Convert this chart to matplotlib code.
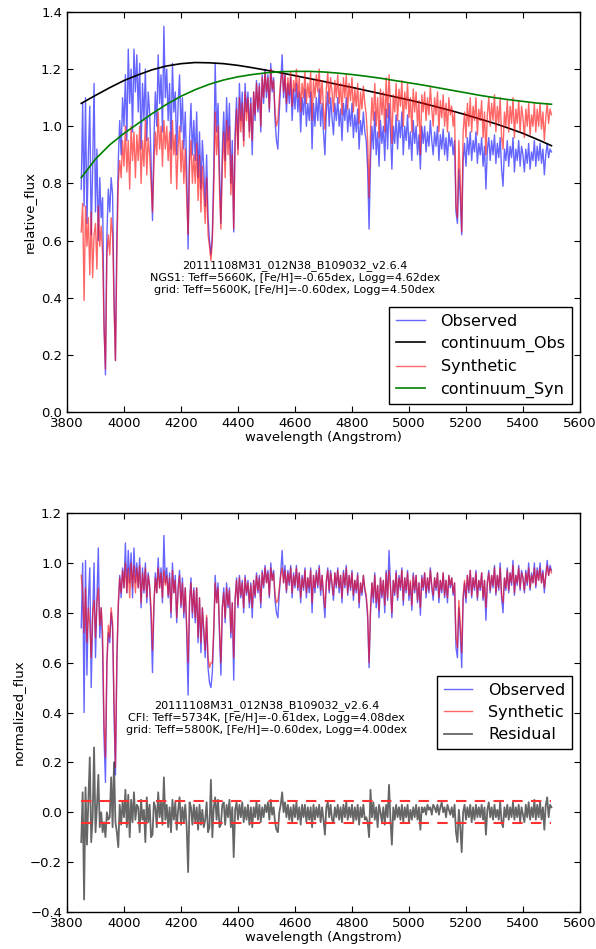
import numpy as np
import matplotlib
matplotlib.use("Agg")
import matplotlib.pyplot as plt

# ---------------- data ----------------
wave = np.arange(3850, 5501, 5)  # Angstrom, 331 samples

obs_flux = [
    0.78, 1.08, 0.72, 1.10, 0.66, 0.90, 1.07, 0.62, 0.85, 1.15,
    0.70, 0.92, 0.60, 0.82, 0.68, 0.75, 0.30, 0.13, 0.62, 0.78,
    0.70, 0.82, 0.76, 0.40, 0.18, 0.62, 0.88, 1.02, 0.90, 1.10,
    1.00, 1.18, 0.95, 1.27, 1.08, 1.20, 0.98, 1.27, 1.12, 1.25,
    1.05, 1.22, 0.92, 1.15, 1.02, 1.20, 0.95, 1.12, 1.05, 0.88,
    0.67, 0.95, 1.12, 1.00, 1.25, 1.08, 1.18, 0.98, 1.35, 1.10,
    1.20, 1.02, 1.15, 0.92, 1.22, 1.05, 1.12, 0.90, 1.08, 1.18,
    0.98, 1.10, 0.92, 1.05, 0.85, 0.57, 0.95, 1.08, 0.90, 1.02,
    0.88, 1.05, 0.82, 0.98, 0.78, 0.95, 0.85, 0.72, 0.90, 0.68,
    0.60, 0.55, 0.62, 0.85, 1.22, 0.98, 1.08, 0.85, 0.66, 0.92,
    1.05, 0.88, 1.10, 0.95, 1.08, 0.80, 0.95, 0.63, 0.98, 1.10,
    0.92, 1.15, 1.02, 1.12, 0.95, 1.15, 1.05, 1.12, 0.98, 1.10,
    0.90, 1.12, 1.02, 1.16, 1.05, 1.15, 0.98, 1.18, 1.08, 1.20,
    1.10, 1.18, 1.05, 1.22, 1.12, 1.17, 1.02, 0.95, 0.92, 1.05,
    1.15, 1.25, 1.10, 1.18, 1.05, 1.15, 1.08, 1.17, 1.02, 1.13,
    1.06, 1.15, 1.05, 1.12, 0.98, 1.10, 1.04, 1.13, 1.00, 1.08,
    1.02, 1.12, 0.92, 1.08, 1.00, 1.10, 1.02, 1.13, 1.00, 1.08,
    0.98, 0.90, 1.05, 1.12, 1.00, 1.10, 1.03, 0.97, 1.08, 1.02,
    1.10, 1.00, 1.06, 0.95, 1.08, 1.02, 1.10, 0.98, 1.06, 1.00,
    1.08, 0.96, 1.04, 0.98, 1.06, 0.92, 1.02, 0.97, 1.05, 0.98,
    0.95, 0.85, 0.64, 0.88, 1.00, 0.92, 1.05, 0.90, 0.98, 0.86,
    1.02, 0.94, 1.00, 0.88, 1.06, 0.92, 1.08, 0.98, 0.85, 1.00,
    0.94, 1.04, 0.92, 1.02, 0.96, 1.05, 0.90, 1.00, 0.95, 1.04,
    0.92, 0.98, 0.88, 1.02, 0.94, 1.00, 0.90, 0.97, 0.85, 1.00,
    0.94, 1.00, 0.91, 0.98, 0.93, 1.02, 0.95, 0.90, 0.98, 0.93,
    1.00, 0.88, 0.97, 0.92, 0.99, 0.90, 0.96, 0.88, 0.98, 0.93,
    0.96, 0.90, 0.95, 0.70, 0.66, 0.85, 0.75, 0.62, 0.88, 0.94,
    0.86, 0.96, 0.90, 0.98, 0.88, 0.95, 0.91, 0.98, 0.87, 0.94,
    0.90, 0.96, 0.86, 0.93, 0.78, 0.92, 0.96, 0.88, 0.95, 0.90,
    0.97, 0.87, 0.94, 0.89, 0.96, 0.85, 0.79, 0.92, 0.88, 0.95,
    0.86, 0.93, 0.89, 0.96, 0.84, 0.92, 0.88, 0.95, 0.86, 0.93,
    0.90, 0.84, 0.92, 0.87, 0.94, 0.85, 0.91, 0.88, 0.95, 0.86,
    0.93, 0.88, 0.94, 0.87, 0.92, 0.83, 0.90, 0.94, 0.89, 0.92,
    0.91,
]

syn_flux = [
    0.63, 0.73, 0.39, 0.72, 0.58, 0.68, 0.48, 0.70, 0.47, 0.62,
    0.66, 0.50, 0.72, 0.58, 0.65, 0.55, 0.30, 0.15, 0.55, 0.62,
    0.55, 0.68, 0.62, 0.38, 0.18, 0.55, 0.80, 0.88, 0.82, 0.95,
    0.86, 1.00, 0.84, 0.95, 0.78, 1.00, 0.88, 0.98, 0.82, 0.97,
    0.88, 1.00, 0.80, 0.95, 0.86, 1.02, 0.83, 0.96, 0.90, 0.80,
    0.70, 0.86, 0.98, 0.90, 1.05, 0.92, 1.00, 0.86, 1.02, 0.92,
    1.00, 0.88, 0.98, 0.80, 1.02, 0.90, 0.97, 0.78, 0.93, 1.00,
    0.84, 0.95, 0.80, 0.92, 0.75, 0.62, 0.86, 0.95, 0.80, 0.90,
    0.80, 0.94, 0.74, 0.90, 0.70, 0.86, 0.76, 0.66, 0.82, 0.62,
    0.58, 0.53, 0.60, 0.78, 1.05, 0.90, 1.00, 0.78, 0.64, 0.86,
    0.98, 0.82, 1.02, 0.90, 1.00, 0.76, 0.90, 0.64, 0.94, 1.06,
    0.90, 1.10, 0.98, 1.08, 0.93, 1.12, 1.02, 1.10, 0.96, 1.08,
    0.95, 1.12, 1.04, 1.15, 1.06, 1.14, 1.00, 1.17, 1.10, 1.19,
    1.12, 1.17, 1.06, 1.20, 1.13, 1.16, 1.05, 1.00, 1.02, 1.10,
    1.16, 1.19, 1.12, 1.18, 1.08, 1.17, 1.11, 1.19, 1.07, 1.16,
    1.12, 1.20, 1.10, 1.17, 1.05, 1.15, 1.10, 1.19, 1.08, 1.15,
    1.10, 1.19, 1.02, 1.16, 1.10, 1.18, 1.12, 1.20, 1.08, 1.16,
    1.06, 0.99, 1.13, 1.19, 1.08, 1.17, 1.12, 1.05, 1.16, 1.10,
    1.18, 1.08, 1.15, 1.04, 1.17, 1.10, 1.18, 1.06, 1.15, 1.09,
    1.17, 1.05, 1.13, 1.07, 1.15, 1.01, 1.12, 1.06, 1.14, 1.08,
    1.04, 0.95, 0.75, 0.98, 1.10, 1.02, 1.15, 1.00, 1.10, 0.96,
    1.13, 1.04, 1.12, 0.98, 1.17, 1.03, 1.18, 1.08, 0.94, 1.11,
    1.05, 1.15, 1.02, 1.13, 1.07, 1.16, 1.00, 1.12, 1.06, 1.15,
    1.03, 1.10, 0.98, 1.13, 1.05, 1.12, 1.00, 1.09, 0.90, 1.11,
    1.05, 1.12, 1.02, 1.10, 1.04, 1.14, 1.06, 1.00, 1.10, 1.04,
    1.12, 0.98, 1.09, 1.03, 1.11, 1.00, 1.08, 0.98, 1.10, 1.04,
    1.07, 1.00, 1.05, 0.72, 0.68, 0.95, 0.82, 0.63, 0.98, 1.05,
    0.96, 1.08, 1.00, 1.10, 0.98, 1.07, 1.02, 1.10, 0.97, 1.06,
    1.02, 1.09, 0.96, 1.05, 0.90, 1.04, 1.10, 1.00, 1.08, 1.02,
    1.11, 0.98, 1.07, 1.01, 1.10, 0.96, 0.92, 1.05, 1.00, 1.09,
    0.98, 1.07, 1.01, 1.10, 0.96, 1.06, 1.01, 1.09, 0.98, 1.07,
    1.03, 0.96, 1.06, 1.00, 1.08, 0.97, 1.04, 1.00, 1.08, 0.98,
    1.06, 1.00, 1.08, 0.99, 1.05, 0.95, 1.03, 1.08, 1.01, 1.06,
    1.04,
]

cont_wave = np.arange(3850, 5501, 50)
cont_obs = [
    1.080, 1.108, 1.135, 1.160, 1.180, 1.198, 1.211, 1.219, 1.223, 1.222,
    1.219, 1.213, 1.205, 1.196, 1.187, 1.177, 1.167, 1.157, 1.146, 1.136,
    1.125, 1.114, 1.103, 1.092, 1.080, 1.067, 1.054, 1.040, 1.025, 1.010,
    0.993, 0.975, 0.954, 0.932,
]
cont_syn = [
    0.820, 0.885, 0.935, 0.975, 1.010, 1.045, 1.077, 1.105, 1.128, 1.147,
    1.162, 1.173, 1.181, 1.187, 1.191, 1.192, 1.192, 1.190, 1.186, 1.181,
    1.175, 1.168, 1.160, 1.152, 1.144, 1.135, 1.126, 1.117, 1.108, 1.100,
    1.093, 1.087, 1.081, 1.077,
]

norm_obs = [
    0.74, 1.00, 0.40, 1.01, 0.55, 0.85, 0.98, 0.50, 0.78, 1.00,
    0.62, 0.85, 1.06, 0.70, 0.82, 0.65, 0.30, 0.12, 0.60, 0.72,
    0.68, 0.80, 0.74, 0.40, 0.15, 0.60, 0.82, 0.95, 0.86, 0.98,
    0.90, 1.08, 0.88, 1.05, 0.92, 1.04, 0.86, 1.06, 0.92, 1.00,
    0.90, 1.02, 0.82, 0.98, 0.88, 1.00, 0.84, 0.96, 0.90, 0.78,
    0.56, 0.82, 0.96, 0.88, 1.02, 0.90, 0.98, 0.84, 1.11, 0.92,
    0.98, 0.86, 0.96, 0.78, 1.00, 0.88, 0.95, 0.76, 0.90, 0.97,
    0.82, 0.94, 0.78, 0.90, 0.72, 0.47, 0.84, 0.94, 0.78, 0.90,
    0.76, 0.90, 0.68, 0.86, 0.64, 0.82, 0.72, 0.62, 0.78, 0.58,
    0.52, 0.50, 0.56, 0.72, 0.95, 0.84, 0.92, 0.72, 0.55, 0.82,
    0.90, 0.76, 0.92, 0.82, 0.90, 0.70, 0.84, 0.53, 0.85, 0.94,
    0.82, 0.95, 0.86, 0.93, 0.80, 0.95, 0.87, 0.93, 0.82, 0.92,
    0.78, 0.93, 0.86, 0.96, 0.88, 0.95, 0.82, 0.97, 0.90, 0.99,
    0.92, 0.97, 0.86, 1.00, 0.93, 0.97, 0.85, 0.80, 0.78, 0.88,
    0.96, 1.05, 0.92, 0.99, 0.88, 0.97, 0.91, 0.99, 0.86, 0.96,
    0.90, 0.99, 0.89, 0.96, 0.84, 0.95, 0.89, 0.98, 0.86, 0.94,
    0.88, 0.98, 0.80, 0.95, 0.88, 0.97, 0.90, 0.99, 0.87, 0.95,
    0.86, 0.78, 0.92, 0.98, 0.88, 0.97, 0.91, 0.85, 0.96, 0.90,
    0.98, 0.88, 0.95, 0.84, 0.97, 0.90, 0.99, 0.87, 0.95, 0.89,
    0.97, 0.85, 0.93, 0.88, 0.96, 0.82, 0.92, 0.87, 0.95, 0.89,
    0.86, 0.78, 0.58, 0.80, 0.92, 0.84, 0.96, 0.82, 0.91, 0.78,
    0.94, 0.86, 0.93, 0.80, 0.97, 0.85, 1.05, 0.91, 0.78, 0.93,
    0.87, 0.97, 0.85, 0.95, 0.89, 0.98, 0.83, 0.94, 0.88, 0.97,
    0.85, 0.92, 0.81, 0.96, 0.88, 0.95, 0.84, 0.92, 0.79, 0.95,
    0.89, 0.96, 0.86, 0.94, 0.88, 0.98, 0.90, 0.85, 0.94, 0.89,
    0.96, 0.84, 0.93, 0.88, 0.96, 0.86, 0.93, 0.84, 0.95, 0.90,
    0.94, 0.87, 0.92, 0.66, 0.62, 0.82, 0.72, 0.58, 0.85, 0.92,
    0.84, 0.95, 0.88, 0.97, 0.86, 0.94, 0.89, 0.97, 0.85, 0.93,
    0.89, 0.96, 0.85, 0.93, 0.77, 0.92, 0.97, 0.88, 0.95, 0.90,
    0.99, 0.87, 0.95, 0.89, 1.00, 0.86, 0.80, 0.94, 0.89, 0.98,
    0.88, 0.96, 0.91, 1.01, 0.87, 0.95, 0.91, 0.99, 0.89, 0.97,
    0.94, 0.88, 0.97, 0.91, 1.00, 0.89, 0.96, 0.92, 1.00, 0.90,
    0.98, 0.93, 1.00, 0.92, 0.97, 0.88, 0.95, 1.01, 0.95, 0.99,
    0.97,
]

norm_syn = [
    0.95, 0.88, 0.72, 0.90, 0.68, 0.82, 0.75, 0.62, 0.80, 0.85,
    0.70, 0.84, 0.90, 0.75, 0.82, 0.72, 0.35, 0.22, 0.60, 0.75,
    0.70, 0.82, 0.76, 0.45, 0.18, 0.62, 0.84, 0.94, 0.88, 0.97,
    0.90, 1.00, 0.88, 0.98, 0.86, 1.00, 0.90, 0.99, 0.88, 0.98,
    0.90, 0.99, 0.84, 0.96, 0.89, 0.98, 0.86, 0.95, 0.91, 0.82,
    0.65, 0.84, 0.94, 0.88, 0.98, 0.90, 0.96, 0.86, 0.97, 0.91,
    0.95, 0.87, 0.94, 0.80, 0.97, 0.88, 0.93, 0.78, 0.89, 0.95,
    0.83, 0.92, 0.80, 0.90, 0.75, 0.60, 0.84, 0.92, 0.80, 0.89,
    0.78, 0.90, 0.70, 0.86, 0.68, 0.82, 0.74, 0.65, 0.79, 0.62,
    0.58, 0.60, 0.60, 0.74, 0.92, 0.84, 0.90, 0.74, 0.60, 0.82,
    0.88, 0.78, 0.90, 0.83, 0.89, 0.72, 0.84, 0.62, 0.86, 0.93,
    0.83, 0.94, 0.87, 0.92, 0.82, 0.94, 0.88, 0.92, 0.84, 0.91,
    0.82, 0.93, 0.87, 0.95, 0.89, 0.94, 0.84, 0.96, 0.91, 0.98,
    0.92, 0.96, 0.87, 0.98, 0.93, 0.96, 0.87, 0.84, 0.85, 0.90,
    0.95, 0.98, 0.92, 0.97, 0.89, 0.96, 0.92, 0.98, 0.88, 0.95,
    0.91, 0.98, 0.90, 0.96, 0.86, 0.94, 0.90, 0.97, 0.88, 0.94,
    0.90, 0.97, 0.84, 0.95, 0.90, 0.96, 0.91, 0.98, 0.89, 0.95,
    0.88, 0.82, 0.93, 0.97, 0.89, 0.96, 0.92, 0.87, 0.96, 0.91,
    0.97, 0.90, 0.95, 0.86, 0.96, 0.91, 0.98, 0.88, 0.95, 0.90,
    0.96, 0.87, 0.93, 0.89, 0.95, 0.84, 0.92, 0.88, 0.95, 0.90,
    0.87, 0.80, 0.60, 0.82, 0.92, 0.86, 0.95, 0.84, 0.91, 0.81,
    0.94, 0.87, 0.93, 0.83, 0.96, 0.86, 0.97, 0.90, 0.80, 0.93,
    0.88, 0.96, 0.86, 0.94, 0.90, 0.97, 0.85, 0.94, 0.89, 0.96,
    0.87, 0.93, 0.83, 0.95, 0.89, 0.95, 0.85, 0.92, 0.82, 0.94,
    0.90, 0.96, 0.88, 0.94, 0.89, 0.97, 0.91, 0.87, 0.94, 0.90,
    0.96, 0.86, 0.93, 0.89, 0.96, 0.87, 0.93, 0.86, 0.95, 0.91,
    0.94, 0.88, 0.92, 0.70, 0.66, 0.85, 0.76, 0.64, 0.87, 0.93,
    0.86, 0.95, 0.89, 0.97, 0.87, 0.94, 0.90, 0.96, 0.86, 0.93,
    0.90, 0.96, 0.86, 0.93, 0.82, 0.92, 0.96, 0.89, 0.95, 0.91,
    0.98, 0.88, 0.95, 0.90, 0.98, 0.87, 0.84, 0.94, 0.90, 0.97,
    0.89, 0.96, 0.92, 0.99, 0.88, 0.95, 0.92, 0.98, 0.90, 0.96,
    0.94, 0.89, 0.96, 0.92, 0.98, 0.90, 0.95, 0.92, 0.98, 0.91,
    0.97, 0.93, 0.98, 0.92, 0.96, 0.90, 0.95, 0.99, 0.95, 0.98,
    0.96,
]

residual = [
    -0.12, 0.08, -0.35, 0.10, -0.13, 0.05, 0.22, -0.12, -0.02, 0.26,
    -0.08, 0.02, 0.15, -0.06, 0.00, -0.08, -0.04, -0.10, 0.00, -0.03,
    -0.02, 0.14, -0.06, 0.20, -0.04, -0.08, -0.14, 0.03, -0.05, 0.04,
    -0.02, 0.09, -0.06, 0.07, -0.10, 0.05, -0.04, 0.08, -0.03, 0.03,
    0.02, -0.08, 0.05, -0.03, 0.01, -0.12, 0.06, -0.04, 0.03, -0.10,
    -0.09, 0.04, 0.02, -0.06, 0.08, -0.02, 0.04, -0.05, 0.14, -0.03,
    0.03, -0.06, 0.02, -0.08, 0.05, -0.03, 0.04, -0.07, 0.01, 0.06,
    -0.05, 0.02, -0.04, 0.03, -0.06, -0.24, 0.04, 0.02, -0.05, 0.03,
    -0.04, 0.02, -0.07, 0.03, -0.05, 0.01, -0.06, -0.03, 0.04, -0.08,
    -0.06, 0.13, -0.10, 0.02, 0.06, -0.03, 0.05, -0.06, -0.05, 0.03,
    0.04, -0.05, 0.03, -0.02, 0.05, -0.06, 0.02, -0.18, 0.01, 0.04,
    -0.03, 0.03, -0.02, 0.04, -0.04, 0.02, -0.03, 0.03, -0.05, 0.02,
    -0.06, 0.02, -0.02, 0.04, -0.03, 0.03, -0.04, 0.02, -0.02, 0.03,
    0.00, 0.04, -0.03, 0.05, -0.01, 0.02, -0.04, -0.07, -0.08, 0.00,
    0.03, 0.08, 0.00, 0.04, -0.02, 0.03, -0.03, 0.02, -0.04, 0.03,
    -0.02, 0.04, -0.03, 0.02, -0.05, 0.03, -0.02, 0.03, -0.04, 0.02,
    -0.03, 0.02, -0.06, 0.03, -0.03, 0.02, -0.02, 0.03, -0.04, 0.02,
    -0.03, -0.09, 0.02, 0.04, -0.02, 0.03, -0.03, -0.04, 0.02, -0.02,
    0.03, -0.03, 0.02, -0.04, 0.03, -0.02, 0.04, -0.03, 0.02, -0.02,
    0.03, -0.04, 0.02, -0.03, 0.03, -0.05, 0.02, -0.02, 0.03, -0.03,
    -0.02, -0.04, -0.10, 0.09, -0.02, 0.04, -0.03, 0.02, -0.06, 0.03,
    0.00, -0.04, 0.02, -0.05, 0.03, -0.02, 0.11, -0.03, -0.13, 0.02,
    -0.03, 0.03, -0.02, 0.02, -0.03, 0.03, -0.04, 0.02, -0.02, 0.03,
    -0.04, 0.01, -0.03, 0.02, -0.02, 0.03, -0.03, 0.02, -0.07, 0.02,
    0.00, 0.02, -0.01, 0.03, 0.01, 0.02, -0.01, 0.03, 0.02, 0.00,
    0.03, -0.01, 0.02, 0.04, 0.00, 0.02, -0.02, 0.03, 0.01, -0.01,
    0.02, -0.02, 0.03, -0.08, -0.12, 0.01, -0.06, -0.16, 0.00, 0.03,
    -0.03, 0.02, -0.02, 0.03, -0.04, 0.02, -0.03, 0.03, -0.02, 0.02,
    -0.02, 0.03, -0.03, 0.02, -0.09, 0.01, 0.04, -0.02, 0.02, -0.03,
    0.03, -0.02, 0.01, -0.03, 0.04, -0.04, -0.06, 0.02, -0.02, 0.03,
    -0.03, 0.02, -0.02, 0.04, -0.03, 0.02, -0.02, 0.03, -0.04, 0.02,
    -0.01, -0.04, 0.03, -0.02, 0.04, -0.03, 0.02, -0.02, 0.05, -0.03,
    0.03, -0.02, 0.04, -0.03, 0.02, -0.07, 0.03, 0.06, -0.02, 0.03,
    0.02,
]

resid_band = 0.045
title_id = "20111108M31_012N38_B109032_v2.6.4"
top_info = title_id + "\nNGS1: Teff=5660K, [Fe/H]=-0.65dex, Logg=4.62dex\ngrid: Teff=5600K, [Fe/H]=-0.60dex, Logg=4.50dex"
bot_info = title_id + "\nCFI: Teff=5734K, [Fe/H]=-0.61dex, Logg=4.08dex\ngrid: Teff=5800K, [Fe/H]=-0.60dex, Logg=4.00dex"

# ---------------- style ----------------
plt.rcParams.update({
    "font.family": ["DejaVu Sans"],
    "font.size": 9.5,
    "xtick.direction": "in",
    "ytick.direction": "in",
    "xtick.top": True,
    "ytick.right": True,
    "xtick.major.size": 4,
    "ytick.major.size": 4,
    "axes.linewidth": 1.0,
})

fig = plt.figure(figsize=(5.96, 9.49), dpi=100)
fig.patch.set_facecolor("white")
ax1 = fig.add_axes([0.1124, 0.5659, 0.8607, 0.4215])
ax2 = fig.add_axes([0.1124, 0.0390, 0.8607, 0.4204])

n = len(wave)

# top panel
ax1.plot(wave, obs_flux[:n], color="b", alpha=0.6, lw=1.0, label="Observed")
ax1.plot(cont_wave, cont_obs, color="k", lw=1.2, label="continuum_Obs")
ax1.plot(wave, syn_flux[:n], color="r", alpha=0.6, lw=1.0, label="Synthetic")
ax1.plot(cont_wave, cont_syn, color="g", lw=1.2, label="continuum_Syn")
ax1.set_xlim(3800, 5600)
ax1.set_ylim(0.0, 1.4)
ax1.set_xticks(np.arange(3800, 5601, 200))
ax1.set_yticks(np.arange(0.0, 1.41, 0.2))
ax1.set_xlabel("wavelength (Angstrom)", labelpad=1)
ax1.set_ylabel("relative_flux")
ax1.text(4600, 0.47, top_info, ha="center", va="center", fontsize=8, linespacing=1.25)
leg1 = ax1.legend(loc="lower right", fontsize=11.5, fancybox=False, framealpha=1,
                  edgecolor="k", handlelength=1.8, handletextpad=1.0, labelspacing=0.45)
leg1.get_frame().set_linewidth(1.0)

# bottom panel
ax2.plot(wave, norm_obs[:n], color="b", alpha=0.6, lw=1.0, label="Observed")
ax2.plot(wave, norm_syn[:n], color="r", alpha=0.6, lw=1.0, label="Synthetic")
ax2.plot(wave, residual[:n], color="k", alpha=0.6, lw=1.3, label="Residual")
ax2.plot([wave[0], wave[-1]], [resid_band, resid_band], color="#ff3030",
         ls=(0, (5, 4)), lw=1.5, zorder=3)
ax2.plot([wave[0], wave[-1]], [-resid_band, -resid_band], color="#ff3030",
         ls=(0, (5, 4)), lw=1.5, zorder=3)
ax2.set_xlim(3800, 5600)
ax2.set_ylim(-0.4, 1.2)
ax2.set_xticks(np.arange(3800, 5601, 200))
ax2.set_yticks(np.arange(-0.4, 1.21, 0.2))
ax2.set_xlabel("wavelength (Angstrom)", labelpad=1)
ax2.set_ylabel("normalized_flux")
ax2.text(4500, 0.38, bot_info, ha="center", va="center", fontsize=8, linespacing=1.25)
leg2 = ax2.legend(loc="center right", fontsize=11.5, fancybox=False, framealpha=1,
                  edgecolor="k", handlelength=1.8, handletextpad=1.0, labelspacing=0.45)
leg2.get_frame().set_linewidth(1.0)

fig.savefig("out.png", dpi=100, facecolor="white")
